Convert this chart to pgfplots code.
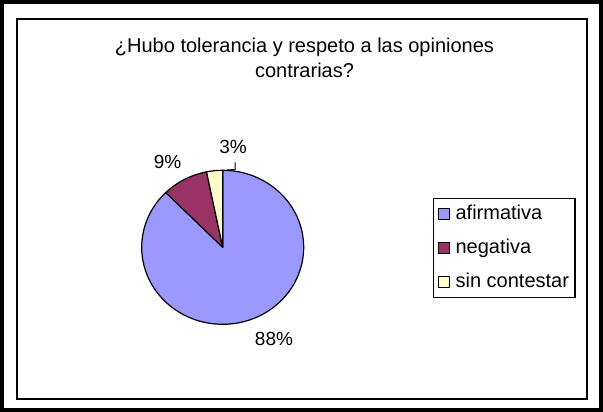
\documentclass[border=0pt]{standalone}
\usepackage{fontspec}
\setmainfont{Liberation Sans}
\usepackage{pgfplots}
\usepackage{pgfplotstable}
\pgfplotsset{compat=1.18}
\definecolor{afirm}{HTML}{9999FF}
\definecolor{nega}{HTML}{993366}
\definecolor{sinc}{HTML}{FFFFCC}
\pgfplotstableread{
label value
afirmativa 87.6
negativa 9.2
sincontestar 3.2
}\pietable
\begin{document}%
\begin{tikzpicture}
\pgfplotstablegetelem{0}{value}\of\pietable \let\va\pgfplotsretval
\pgfplotstablegetelem{1}{value}\of\pietable \let\vb\pgfplotsretval
\pgfplotstablegetelem{2}{value}\of\pietable \let\vc\pgfplotsretval
\pgfmathsetmacro{\aA}{90-3.6*\va}
\pgfmathsetmacro{\aB}{\aA-3.6*\vb}
\pgfmathsetmacro{\aC}{\aB-3.6*\vc}
\begin{axis}[
  at={(0,0)}, anchor=south west,
  scale only axis, width=603pt, height=412pt,
  xmin=0, xmax=603, ymin=0, ymax=412,
  hide axis, clip=false,
  legend style={at={(axis description cs:0.7181,0.5194)}, anchor=north west,
    draw=black, line width=1.2pt, fill=white,
    font=\fontsize{20}{24}\selectfont,
    inner xsep=4pt, inner ysep=3.75pt, row sep=10.5pt,
    nodes={inner sep=2pt, text height=15pt, text depth=4.5pt},
    /tikz/every odd column/.append style={column sep=4pt}},
  legend cell align=left,
  legend image code/.code={\draw[#1, line width=1pt] (0pt,-5.5pt) rectangle (11pt,5.5pt);},
]
% frames
\draw[black, line width=4pt] (axis cs:2,2) rectangle (axis cs:601,410);
\draw[black, line width=2pt] (axis cs:17,13) rectangle (axis cs:587,393);
% title
\node[anchor=base, font=\fontsize{20}{24}\selectfont] at (axis cs:304.5,359) {¿Hubo tolerancia y respeto a las opiniones};
\node[anchor=base, font=\fontsize{20}{24}\selectfont] at (axis cs:304.5,334) {contrarias?};
% pie
\def\cx{222.7}\def\cy{164.7}
\filldraw[fill=afirm, draw=black, line width=1.2pt, line join=round]
  (axis cs:\cx,\cy) -- ([shift={(90:81pt and 77pt)}]axis cs:\cx,\cy)
  arc[start angle=90, end angle=\aA, x radius=81pt, y radius=77pt] -- cycle;
\filldraw[fill=nega, draw=black, line width=1.2pt, line join=round]
  (axis cs:\cx,\cy) -- ([shift={(\aA:81pt and 77pt)}]axis cs:\cx,\cy)
  arc[start angle=\aA, end angle=\aB, x radius=81pt, y radius=77pt] -- cycle;
\filldraw[fill=sinc, draw=black, line width=1.2pt, line join=round]
  (axis cs:\cx,\cy) -- ([shift={(\aB:81pt and 77pt)}]axis cs:\cx,\cy)
  arc[start angle=\aB, end angle=\aC, x radius=81pt, y radius=77pt] -- cycle;
% labels
\node[font=\fontsize{19}{22}\selectfont] at (axis cs:274,73) {\pgfmathprintnumber[fixed,precision=0,assume math mode=true]{\va}\%};
\node[font=\fontsize{19}{22}\selectfont] at (axis cs:167.5,250.5) {\pgfmathprintnumber[fixed,precision=0,assume math mode=true]{\vb}\%};
\node[font=\fontsize{19}{22}\selectfont] at (axis cs:233,265) {\pgfmathprintnumber[fixed,precision=0,assume math mode=true]{\vc}\%};
\draw[black, line width=1pt] (axis cs:235,249.5) -- (axis cs:235,242.5) -- (axis cs:227,242);
% legend
\addlegendimage{fill=afirm, draw=black}
\addlegendentry{afirmativa}
\addlegendimage{fill=nega, draw=black}
\addlegendentry{negativa}
\addlegendimage{fill=sinc, draw=black}
\addlegendentry{sin contestar}
\end{axis}
\pgfresetboundingbox
\path[use as bounding box] (0,0) rectangle (603pt,412pt);
\end{tikzpicture}%
\end{document}
